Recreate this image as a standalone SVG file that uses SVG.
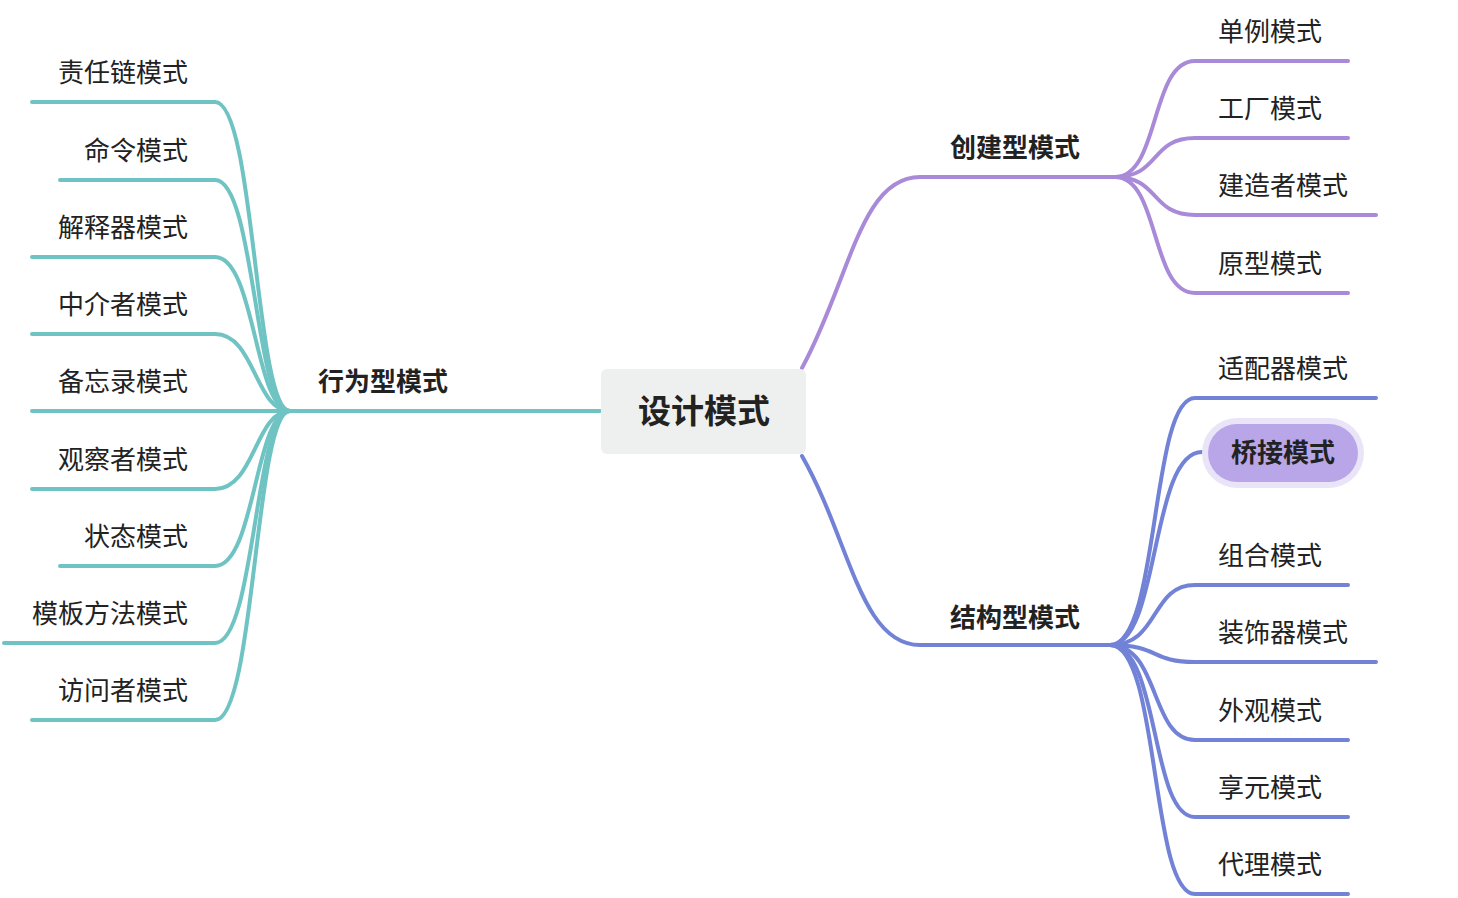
<svg xmlns="http://www.w3.org/2000/svg" width="1458" height="898" viewBox="0 0 1458 898">
<style>
text{font-family:"Noto Sans CJK SC","Noto Sans",sans-serif;fill:#222}
.leaf{font-size:26px}
.sub{font-size:26px;font-weight:bold}
.t{fill:none;stroke:#6fc4c3;stroke-width:4;stroke-linecap:round}
.p{fill:none;stroke:#a88ad9;stroke-width:4;stroke-linecap:round}
.b{fill:none;stroke:#7282d6;stroke-width:4;stroke-linecap:round}
</style>
<rect width="1458" height="898" fill="#fff"/>
<g id="connectors">
<path class="t" d="M600 411H285"/>
<path class="t" d="M32 102H215C255 102 255 411 290 411"/>
<path class="t" d="M60 180H215C255 180 255 411 290 411"/>
<path class="t" d="M32 257H215C255 257 255 411 290 411"/>
<path class="t" d="M32 334H215C255 334 255 411 290 411"/>
<path class="t" d="M32 411H290"/>
<path class="t" d="M32 489H215C255 489 255 411 290 411"/>
<path class="t" d="M60 566H215C255 566 255 411 290 411"/>
<path class="t" d="M4 643H215C255 643 255 411 290 411"/>
<path class="t" d="M32 720H215C255 720 255 411 290 411"/>
<path class="p" d="M802 368C850 280 860 177 920 177H1120"/>
<path class="p" d="M1115 177C1160 177 1150 61 1195 61H1348"/>
<path class="p" d="M1115 177C1160 177 1150 138 1195 138H1348"/>
<path class="p" d="M1115 177C1160 177 1150 215 1195 215H1376"/>
<path class="p" d="M1115 177C1160 177 1150 293 1195 293H1348"/>
<path class="b" d="M802 456C850 540 860 645 920 645H1110"/>
<path class="b" d="M1110 645C1160 645 1150 398 1195 398H1376"/>
<path class="b" d="M1110 645C1160 645 1150 452 1202 452"/>
<path class="b" d="M1110 645C1160 645 1150 585 1195 585H1348"/>
<path class="b" d="M1110 645C1160 645 1150 662 1195 662H1376"/>
<path class="b" d="M1110 645C1160 645 1150 740 1195 740H1348"/>
<path class="b" d="M1110 645C1160 645 1150 817 1195 817H1348"/>
<path class="b" d="M1110 645C1160 645 1150 894 1195 894H1348"/>
</g>
<g id="center"><rect x="601" y="369" width="205" height="85" rx="6" fill="#eef0ef"/><text x="704" y="423" text-anchor="middle" font-size="33" font-weight="bold">设计模式</text></g>
<g id="behavior"><text class="sub" x="318" y="391">行为型模式</text></g>
<g id="create"><text class="sub" x="950" y="157">创建型模式</text></g>
<g id="struct"><text class="sub" x="950" y="627">结构型模式</text></g>
<g id="left-leaves" class="leaf" text-anchor="end">
<text class="leaf" x="188" y="82">责任链模式</text>
<text class="leaf" x="188" y="160">命令模式</text>
<text class="leaf" x="188" y="237">解释器模式</text>
<text class="leaf" x="188" y="314">中介者模式</text>
<text class="leaf" x="188" y="391">备忘录模式</text>
<text class="leaf" x="188" y="469">观察者模式</text>
<text class="leaf" x="188" y="546">状态模式</text>
<text class="leaf" x="188" y="623">模板方法模式</text>
<text class="leaf" x="188" y="700">访问者模式</text>
</g>
<g id="right-leaves">
<text class="leaf" x="1218" y="41">单例模式</text>
<text class="leaf" x="1218" y="118">工厂模式</text>
<text class="leaf" x="1218" y="195">建造者模式</text>
<text class="leaf" x="1218" y="273">原型模式</text>
<text class="leaf" x="1218" y="378">适配器模式</text>
<text class="leaf" x="1218" y="565">组合模式</text>
<text class="leaf" x="1218" y="642">装饰器模式</text>
<text class="leaf" x="1218" y="720">外观模式</text>
<text class="leaf" x="1218" y="797">享元模式</text>
<text class="leaf" x="1218" y="874">代理模式</text>
</g>
<g id="bridge"><rect x="1202" y="418" width="162" height="70" rx="35" fill="#eae4f8"/><rect x="1208" y="424" width="150" height="58" rx="29" fill="#b9a6e8"/><text x="1283" y="462" text-anchor="middle" font-size="26" font-weight="bold">桥接模式</text></g>
</svg>
